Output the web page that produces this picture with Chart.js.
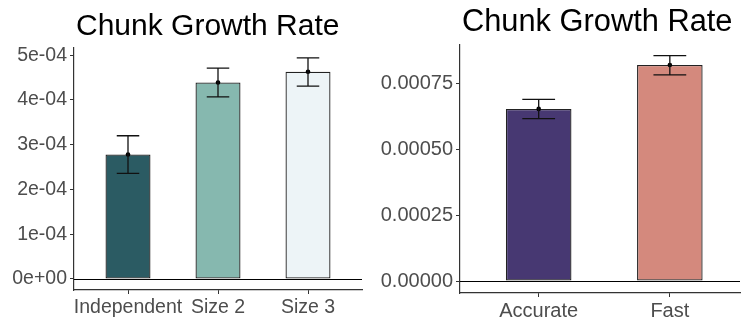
<!DOCTYPE html><html lang="en"><head>
<meta charset="UTF-8">
<title>Chunk Growth Rate</title>
<script src="https://cdn.jsdelivr.net/npm/chart.js@4"></script>
<style>
  html, body { margin: 0; padding: 0; background: #fff; }
  #wrap { position: relative; width: 744px; height: 324px; overflow: hidden; }
  canvas { position: absolute; top: 0; }
</style>
</head>
<body>
<div id="wrap">
  <canvas id="left" width="372" height="324" style="left:0"></canvas>
  <canvas id="right" width="372" height="324" style="left:372px"></canvas>
</div>
<script>
// left panel: chunk size
const sizeLabels = ['Independent', 'Size 2', 'Size 3'];
const sizeMeans = [2.78e-4, 4.39e-4, 4.63e-4];
const sizeLow = [2.36e-4, 4.07e-4, 4.31e-4];
const sizeHigh = [3.20e-4, 4.71e-4, 4.94e-4];
const sizeColors = ['#2b5b63', '#86b8af', '#edf4f7'];

// right panel: speed condition
const speedLabels = ['Accurate', 'Fast'];
const speedMeans = [0.000652, 0.000818];
const speedLow = [0.000615, 0.000781];
const speedHigh = [0.000688, 0.000854];
const speedColors = ['#473872', '#d4897d'];

const FONT = 'Liberation Sans, Arial, Helvetica, sans-serif';

// error bars, zero line and left-aligned title
const extras = {
  id: 'extras',
  afterDatasetsDraw(chart, args, opts) {
    const ctx = chart.ctx, x = chart.scales.x, y = chart.scales.y;
    const area = chart.chartArea;
    ctx.save();
    ctx.strokeStyle = '#000';
    ctx.lineWidth = 1;
    const y0 = Math.round(y.getPixelForValue(0)) + 0.5;
    ctx.beginPath();
    ctx.moveTo(area.left, y0);
    ctx.lineTo(area.right, y0);
    ctx.stroke();

    ctx.strokeStyle = '#111';
    ctx.lineWidth = 1.3;
    const half = (x.getPixelForValue(0.125) - x.getPixelForValue(0));
    opts.low.forEach((lo, i) => {
      const px = x.getPixelForValue(i);
      const yl = y.getPixelForValue(lo), yh = y.getPixelForValue(opts.high[i]);
      ctx.beginPath();
      ctx.moveTo(px, yl); ctx.lineTo(px, yh);
      ctx.moveTo(px - half, yl); ctx.lineTo(px + half, yl);
      ctx.moveTo(px - half, yh); ctx.lineTo(px + half, yh);
      ctx.stroke();
    });
    ctx.restore();
  },
  afterDraw(chart, args, opts) {
    const ctx = chart.ctx;
    ctx.save();
    ctx.fillStyle = '#000';
    ctx.font = opts.titleSize + 'px ' + FONT;
    ctx.textBaseline = 'alphabetic';
    ctx.fillText(opts.title, chart.chartArea.left + 2, opts.titleY);
    ctx.restore();
  }
};

function sci(v) {
  return v.toExponential(0).replace(/e([+-])(\d)$/, 'e$10$2');
}

function makeChart(id, labels, means, low, high, colors, cfg) {
  const bars = means.map((m, i) => ({ x: i, y: m }));
  return new Chart(document.getElementById(id), {
    type: 'bar',
    data: {
      datasets: [
        {
          type: 'line',
          data: bars,
          showLine: false,
          pointRadius: 2.3,
          pointBackgroundColor: '#000',
          pointBorderWidth: 0
        },
        {
          data: bars,
          backgroundColor: colors,
          borderColor: '#222',
          borderWidth: 1.3,
          borderSkipped: false,
          categoryPercentage: 1,
          barPercentage: 0.5
        }
      ]
    },
    options: {
      responsive: false,
      animation: false,
      layout: { padding: { top: cfg.top, right: cfg.right, left: 0, bottom: 0 } },
      plugins: {
        legend: { display: false },
        tooltip: { enabled: false },
        extras: { low: low, high: high, title: 'Chunk Growth Rate', titleSize: cfg.titleSize, titleY: cfg.titleY }
      },
      scales: {
        x: {
          type: 'linear',
          offset: false,
          min: -0.6,
          max: cfg.xMax,
          afterFit: s => { s.height = cfg.xHeight; },
          grid: { display: true, offset: false, drawOnChartArea: false, tickLength: 4, color: '#333' },
          border: { display: true, color: '#333', width: 1.2 },
          ticks: {
            stepSize: 1,
            includeBounds: false,
            autoSkip: false,
            maxRotation: 0,
            padding: 2,
            color: '#4d4d4d',
            font: { family: FONT, size: cfg.tickSize },
            callback: v => labels[v]
          }
        },
        y: {
          min: cfg.yMin,
          max: cfg.yMax,
          afterFit: s => { s.width = cfg.yWidth; },
          grid: { display: true, drawOnChartArea: false, tickLength: 4, color: '#333' },
          border: { display: true, color: '#333', width: 1.2 },
          ticks: {
            stepSize: cfg.step,
            includeBounds: false,
            padding: 3,
            color: '#4d4d4d',
            font: { family: FONT, size: cfg.tickSize },
            callback: cfg.fmt
          }
        }
      }
    },
    plugins: [extras]
  });
}

makeChart('left', sizeLabels, sizeMeans, sizeLow, sizeHigh, sizeColors, {
  top: 48, right: 10, xHeight: 34, yWidth: 74, xMax: 2.6,
  yMin: -0.246e-4, yMax: 5.16e-4, step: 1e-4, fmt: sci,
  tickSize: 19.5, titleSize: 30, titleY: 35
});

makeChart('right', speedLabels, speedMeans, speedLow, speedHigh, speedColors, {
  top: 45, right: 0, xHeight: 31, yWidth: 88, xMax: 1.535,
  yMin: -0.0000452, yMax: 0.000894, step: 0.00025, fmt: v => v.toFixed(5),
  tickSize: 20, titleSize: 30.8, titleY: 31
});
</script>
</body></html>
